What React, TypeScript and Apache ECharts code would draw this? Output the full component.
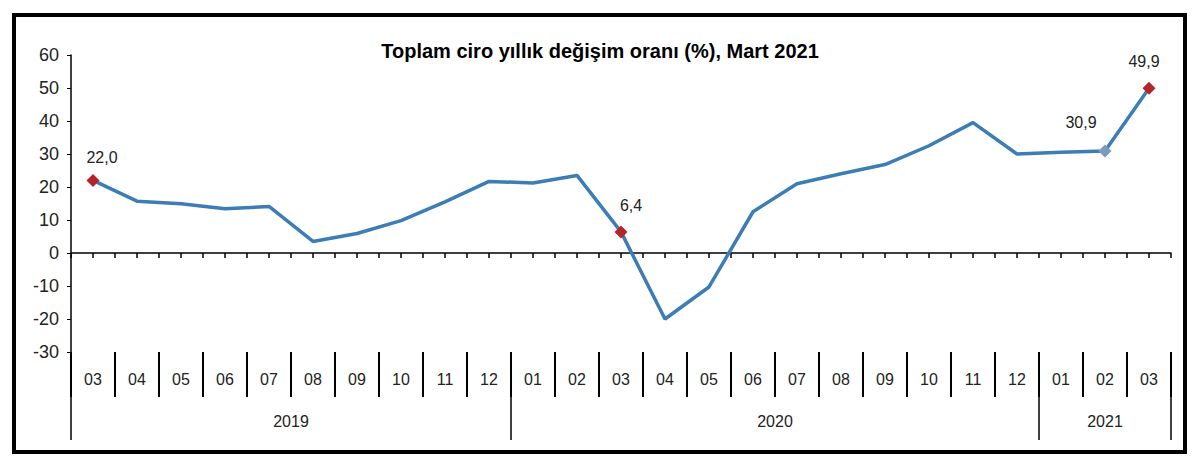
import React, { useEffect, useRef } from 'react';
import * as echarts from 'echarts';

// Months from 2019-03 to 2021-03
const months = [
  '03', '04', '05', '06', '07', '08', '09', '10', '11', '12',
  '01', '02', '03', '04', '05', '06', '07', '08', '09', '10', '11', '12',
  '01', '02', '03',
];
const years = ['2019', '2020', '2021'];
const monthsPerYear = [10, 12, 3];

// annual change (%) of total turnover
const values = [
  22.0, 15.7, 14.9, 13.4, 14.1, 3.5, 5.9, 9.8, 15.5, 21.7,
  21.2, 23.5, 6.4, -20.0, -10.3, 12.5, 21.0, 24.0, 26.8, 32.5, 39.5, 30.0,
  30.5, 30.9, 49.9,
];
const yTicks = [-30, 60, 10]; // min, max, step

// points with a marker and a value label
const redPoints = [0, 12, 24];
const bluePoints = [23];
const labelOffsets: Record<number, number[]> = {
  0: [9, 4],
  12: [10, 0],
  23: [-24, -2],
  24: [-5, 0],
};

const App: React.FC = () => {
  const chartRef = useRef<HTMLDivElement>(null);

  useEffect(() => {
    const chart = echarts.init(chartRef.current!, null, { renderer: 'svg' });

    // year boundaries and year label positions on a 0..N value scale
    const edges = [0];
    monthsPerYear.forEach((n) => edges.push(edges[edges.length - 1] + n));
    const centers = years.map((_, i) => (edges[i] + edges[i + 1]) / 2);

    const fmt = (v: number) => v.toFixed(1).replace('.', ',');
    const font = 'Liberation Sans, Arial, sans-serif';

    const seriesData = values.map((v, i) => {
      const isRed = redPoints.includes(i);
      const isBlue = bluePoints.includes(i);
      if (!isRed && !isBlue) return { value: v, symbol: 'none' };
      return {
        value: v,
        symbol: 'diamond',
        symbolSize: 13,
        itemStyle: { color: isRed ? '#b3242b' : '#7a9cc0' },
        label: {
          show: true,
          position: 'top',
          distance: 12,
          offset: labelOffsets[i] || [0, 0],
          formatter: () => fmt(v),
          fontFamily: font,
          fontSize: 16,
          color: '#222',
        },
      };
    });

    const options = {
      animation: false,
      backgroundColor: '#fff',
      title: {
        text: 'Toplam ciro yıllık değişim oranı (%), Mart 2021',
        left: 'center',
        top: 36,
        textStyle: {
          fontFamily: font,
          fontSize: 20,
          fontWeight: 'bold',
          color: '#000',
        },
      },
      grid: { left: 71, right: 29, top: 55, bottom: 112 },
      xAxis: [
        {
          // zero line with half-band ticks
          type: 'value',
          min: 0,
          max: months.length,
          interval: 0.5,
          position: 'bottom',
          axisLine: { show: true, onZero: true, lineStyle: { color: '#000', width: 1.5 } },
          axisTick: { show: true, length: 5, lineStyle: { color: '#000', width: 1.5 } },
          axisLabel: { show: false },
          splitLine: { show: false },
        },
        {
          // month labels with separators
          type: 'category',
          data: months,
          position: 'bottom',
          boundaryGap: true,
          axisLine: { show: false, onZero: false },
          axisTick: { show: true, interval: 0, length: 45, lineStyle: { color: '#000', width: 2 } },
          axisLabel: {
            interval: 0,
            margin: 19,
            fontFamily: font,
            fontSize: 16,
            color: '#222',
          },
          splitLine: { show: false },
        },
        {
          // years
          type: 'value',
          min: 0,
          max: months.length,
          position: 'bottom',
          axisLine: { show: false, onZero: false },
          axisTick: {
            show: true,
            customValues: edges,
            length: 88,
            lineStyle: { color: '#000', width: 1.5 },
          },
          axisLabel: {
            customValues: centers,
            formatter: (v: number) => years[centers.indexOf(v)] ?? '',
            margin: 61,
            fontFamily: font,
            fontSize: 16,
            color: '#222',
          },
          splitLine: { show: false },
        },
      ],
      yAxis: {
        type: 'value',
        min: yTicks[0],
        max: yTicks[1],
        interval: yTicks[2],
        axisLine: { show: true, onZero: false, lineStyle: { color: '#000', width: 1.5 } },
        axisTick: { show: true, length: 4, lineStyle: { color: '#000' } },
        axisLabel: {
          margin: 12,
          fontFamily: font,
          fontSize: 18,
          color: '#222',
        },
        splitLine: { show: false },
      },
      graphic: [
        {
          type: 'rect',
          shape: { x: 14, y: 15, width: 1171, height: 437 },
          style: { fill: 'none', stroke: '#000', lineWidth: 4 },
          silent: true,
        },
      ],
      series: [
        {
          type: 'line',
          xAxisIndex: 1,
          yAxisIndex: 0,
          data: seriesData,
          showSymbol: true,
          symbol: 'none',
          lineStyle: { color: '#3b7db4', width: 3.5 },
          itemStyle: { color: '#3b7db4' },
          z: 5,
        },
      ],
    };

    chart.setOption(options as any);

    return () => {
      chart.dispose();
    };
  }, []);

  return (
    <div style={{ position: 'fixed', left: 0, top: 0, width: 1200, height: 464 }}>
      <div ref={chartRef} style={{ width: '1200px', height: '464px' }} />
    </div>
  );
};

export default App;
